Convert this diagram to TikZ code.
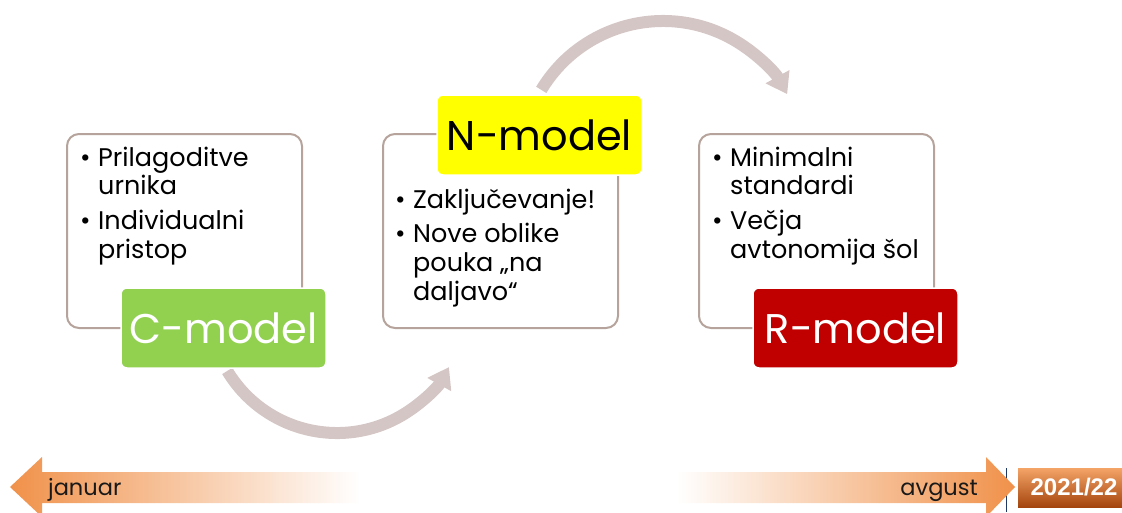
\documentclass[tikz,border=0pt]{standalone}
\usepackage{fontspec}
\setmainfont{Poppins}
\newfontfamily\yearfont{Liberation Sans}
\usetikzlibrary{arrows.meta}
\definecolor{boxline}{HTML}{B5A39C}
\definecolor{arcgray}{HTML}{D4C6C4}
\definecolor{cgreen}{HTML}{92D050}
\definecolor{nyellow}{HTML}{FFFF00}
\definecolor{rred}{HTML}{C00000}
\definecolor{arrowor}{HTML}{F0914A}
\definecolor{yeartop}{HTML}{F5A467}
\definecolor{yearmid}{HTML}{E8660A}
\definecolor{yearbot}{HTML}{A4450E}
\definecolor{navyline}{HTML}{1F3864}
\newcommand{\bul}{\makebox[18pt][l]{•}}
\begin{document}
\begin{tikzpicture}[x=1pt,y=1pt,
  panel/.style={draw=boxline, line width=2pt, fill=white, rounded corners=12pt,
    minimum width=235pt, minimum height=194pt, inner sep=0pt},
  bullets/.style={inner sep=0pt, anchor=base west, font=\fontsize{25.5}{28.7}\selectfont},
  lab/.style={draw=white, line width=1.5pt, rounded corners=6pt, minimum width=205pt,
    minimum height=80pt, inner sep=0pt, font=\fontsize{41.5}{48}\selectfont},
  flow/.style={draw=arcgray, line width=12pt, -{Triangle[width=26pt,length=20pt]}},
  month/.style={inner sep=0pt, font=\fontsize{22.5}{26}\selectfont, text=black!90}
]
\useasboundingbox (0,0) rectangle (1122,-512);

% panels
\node[panel] (cbox) at (184.5,-231) {};
\node[panel] (nbox) at (500.5,-231) {};
\node[panel] (rbox) at (816.5,-231) {};

% bullet texts
\node[bullets] (ctext) at (80,-166) {\begin{tabular}[t]{@{}l@{}l@{}}\bul & Prilagoditve\\ & urnika\\[6pt] \bul & Individualni\\ & pristop\end{tabular}};
\node[bullets] (ntext) at (395,-208) {\begin{tabular}[t]{@{}l@{}l@{}}\bul & Zaključevanje!\\[6pt] \bul & Nove oblike\\ & pouka „na\\ & daljavo“\end{tabular}};
\node[bullets] (rtext) at (712,-166) {\begin{tabular}[t]{@{}l@{}l@{}}\bul & Minimalni\\ & standardi\\[6pt] \bul & Večja\\ & avtonomija šol\end{tabular}};

% curved flow arrows
\coordinate (c1) at (337,-305);
\coordinate (c2) at (663,-163);
\path (c1) ++(211:128) coordinate (f1s);
\path (c2) ++(149:142) coordinate (f2s);
\draw[flow] (f1s) arc[start angle=211, end angle=331, radius=128];
\draw[flow] (f2s) arc[start angle=149, end angle=29, radius=142];

% labels
\node[lab, fill=cgreen, text=white] (clab) at (223.5,-328) {C-model};
\node[lab, fill=nyellow, text=black] (nlab) at (539.5,-135) {N-model};
\node[lab, fill=rred, text=white] (rlab) at (855.5,-328) {R-model};

% timeline
\draw[navyline, line width=0.8pt] (1006,-468) -- (1006,-512);
\shade[left color=arrowor, right color=white]
  (10,-487) -- (42,-457) -- (42,-472) -- (360,-472) -- (360,-503) -- (42,-503) -- (42,-517) -- cycle;
\shade[left color=white, right color=arrowor]
  (677,-472) -- (986,-472) -- (986,-457) -- (1015,-487) -- (986,-517) -- (986,-503) -- (677,-503) -- cycle;
\node[month, anchor=base west] (jan) at (48,-495) {januar};
\node[month, anchor=base east] (avg) at (978,-495) {avgust};
\node[top color=yeartop, middle color=yearmid, bottom color=yearbot, minimum width=106pt,
  minimum height=39pt, inner sep=0pt, text=white,
  font=\yearfont\bfseries\fontsize{24}{28}\selectfont] (year) at (1071,-487.5) {\hspace*{6pt}2021/22};
\end{tikzpicture}
\end{document}
